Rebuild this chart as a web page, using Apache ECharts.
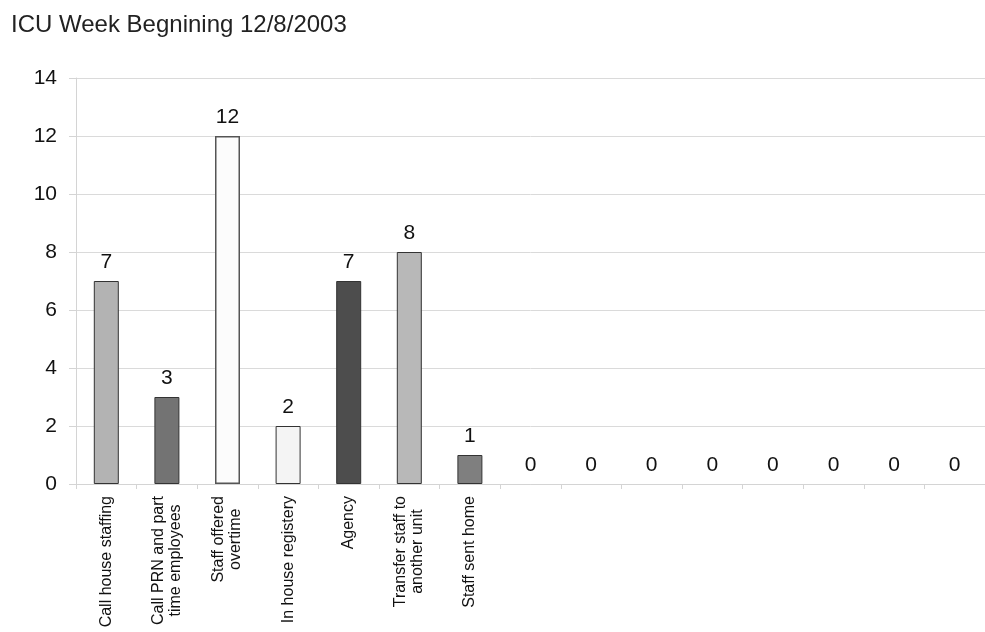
<!DOCTYPE html>
<html>
<head>
<meta charset="utf-8">
<title>ICU Week Begnining 12/8/2003</title>
<script src="https://cdn.jsdelivr.net/npm/echarts@6/dist/echarts.min.js"></script>
<style>
  html, body { margin: 0; padding: 0; background: #ffffff; }
  #chart { width: 985px; height: 632px; }
</style>
</head>
<body>
<div id="chart"></div>
<script>
// Staffing actions for the week; the trailing slots are unused columns.
const categories = [
  'Call house staffing',
  'Call PRN and part\ntime employees',
  'Staff offered\novertime',
  'In house registery',
  'Agency',
  'Transfer staff to\nanother unit',
  'Staff sent home',
  '', '', '', '', '', '', '', ''
];
const counts = [7, 3, 12, 2, 7, 8, 1, 0, 0, 0, 0, 0, 0, 0, 0];
const barColors = [
  '#b3b3b3', '#737373', '#fcfcfc', '#f4f4f4', '#4d4d4d', '#b8b8b8', '#7f7f7f',
  '#b3b3b3', '#b3b3b3', '#b3b3b3', '#b3b3b3', '#b3b3b3', '#b3b3b3', '#b3b3b3', '#b3b3b3'
];
const yTicks = { min: 0, max: 14, step: 2 };

const FONT = '"Liberation Sans", Arial, Helvetica, sans-serif';
const chart = echarts.init(document.getElementById('chart'), null, { renderer: 'canvas' });

chart.setOption({
  animation: false,
  backgroundColor: '#ffffff',
  textStyle: { fontFamily: FONT },
  title: {
    text: 'ICU Week Begnining 12/8/2003',
    left: 6,
    top: 8,
    textStyle: { fontFamily: FONT, fontSize: 24, fontWeight: 'normal', color: '#222222' }
  },
  grid: { left: 76, right: -4, top: 78, bottom: 148, containLabel: false },
  xAxis: {
    type: 'category',
    data: categories,
    axisLine: { show: true, lineStyle: { color: '#d4d4d4', width: 1 } },
    axisTick: { show: true, alignWithLabel: false, length: 5, lineStyle: { color: '#d4d4d4' } },
    axisLabel: {
      interval: 0,
      rotate: 90,
      margin: 12,
      color: '#111111',
      fontFamily: FONT,
      fontSize: 16,
      formatter: function (v) {
        if (!v) return '';
        return v.split('\n').map(function (s) { return '{c|' + s + '}'; }).join('\n');
      },
      rich: {
        c: { align: 'center', fontFamily: FONT, fontSize: 16, lineHeight: 17, color: '#111111' }
      }
    },
    splitLine: { show: false }
  },
  yAxis: {
    type: 'value',
    min: yTicks.min,
    max: yTicks.max,
    interval: yTicks.step,
    axisLine: { show: true, lineStyle: { color: '#d4d4d4', width: 1 } },
    axisTick: { show: true, length: 7, lineStyle: { color: '#d4d4d4' } },
    axisLabel: { margin: 19, color: '#111111', fontFamily: FONT, fontSize: 21 },
    splitLine: { show: true, lineStyle: { color: '#dadada', width: 1 } }
  },
  series: [{
    type: 'bar',
    barWidth: 25,
    data: counts.map(function (v, i) {
      return {
        value: v,
        itemStyle: {
          color: barColors[i],
          borderColor: i === 2 ? '#555555' : '#333333',
          borderWidth: v === 0 ? 0 : (i === 2 ? 1.5 : 1)
        }
      };
    }),
    label: {
      show: true,
      position: 'top',
      distance: 8,
      color: '#111111',
      fontFamily: FONT,
      fontSize: 21
    }
  }]
});
</script>
</body>
</html>
